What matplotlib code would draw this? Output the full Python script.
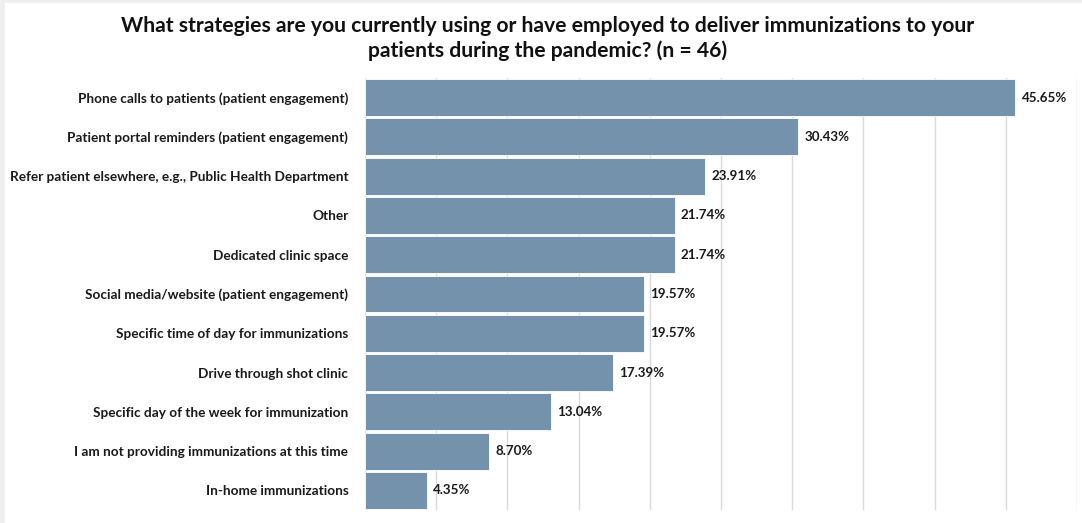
import matplotlib
matplotlib.use("Agg")
import matplotlib.pyplot as plt
from matplotlib.patches import Rectangle

categories = [
    "Phone calls to patients (patient engagement)",
    "Patient portal reminders (patient engagement)",
    "Refer patient elsewhere, e.g., Public Health Department",
    "Other",
    "Dedicated clinic space",
    "Social media/website (patient engagement)",
    "Specific time of day for immunizations",
    "Drive through shot clinic",
    "Specific day of the week for immunization",
    "I am not providing immunizations at this time",
    "In-home immunizations",
]
values = [45.65, 30.43, 23.91, 21.74, 21.74, 19.57, 19.57, 17.39, 13.04, 8.70, 4.35]
title = "What strategies are you currently using or have employed to deliver immunizations to your\npatients during the pandemic? (n = 46)"

plt.rcParams['font.family'] = ['Lato', 'DejaVu Sans']

fig = plt.figure(figsize=(10.82, 5.23), dpi=100)
fig.patch.set_facecolor("white")
# light gray slide edge on the left and top
fig.add_artist(Rectangle((0, 0), 5/1082, 1, transform=fig.transFigure,
                         facecolor="#efefef", edgecolor="none"))
fig.add_artist(Rectangle((0, 1-3/523), 1, 3/523, transform=fig.transFigure,
                         facecolor="#efefef", edgecolor="none"))
ax = fig.add_axes([365/1082, 1-510/523, (1077-365)/1082, (510-78)/523])

y = list(range(len(categories)))
ax.barh(y, values, height=0.94, color="#7492ab", edgecolor="white", linewidth=0.6, zorder=3)
for yi, v in zip(y, values):
    ax.text(v + 0.45, yi, f"{v:.2f}%", va="center", ha="left", fontsize=9.6,
            fontweight="bold", color="#1a1a1a")

ax.set_xlim(0, 50)
ax.set_ylim(len(categories) - 0.5, -0.5)
ax.set_xticks([i * 5 for i in range(11)])
ax.xaxis.grid(True, color="#d9d9d9", linewidth=1, zorder=0)
ax.tick_params(axis="x", length=0, labelbottom=False)
ax.tick_params(axis="y", length=0, pad=12)
ax.set_yticks(y)
ax.set_yticklabels(categories, fontsize=9.8, fontweight="bold", color="#1a1a1a")
for s in ax.spines.values():
    s.set_visible(False)

fig.text(0.506, 1-38.5/523, title, ha="center", va="center", fontsize=15.2,
         fontweight="bold", color="#111111", linespacing=1.3)

fig.savefig("out.png", dpi=100)
